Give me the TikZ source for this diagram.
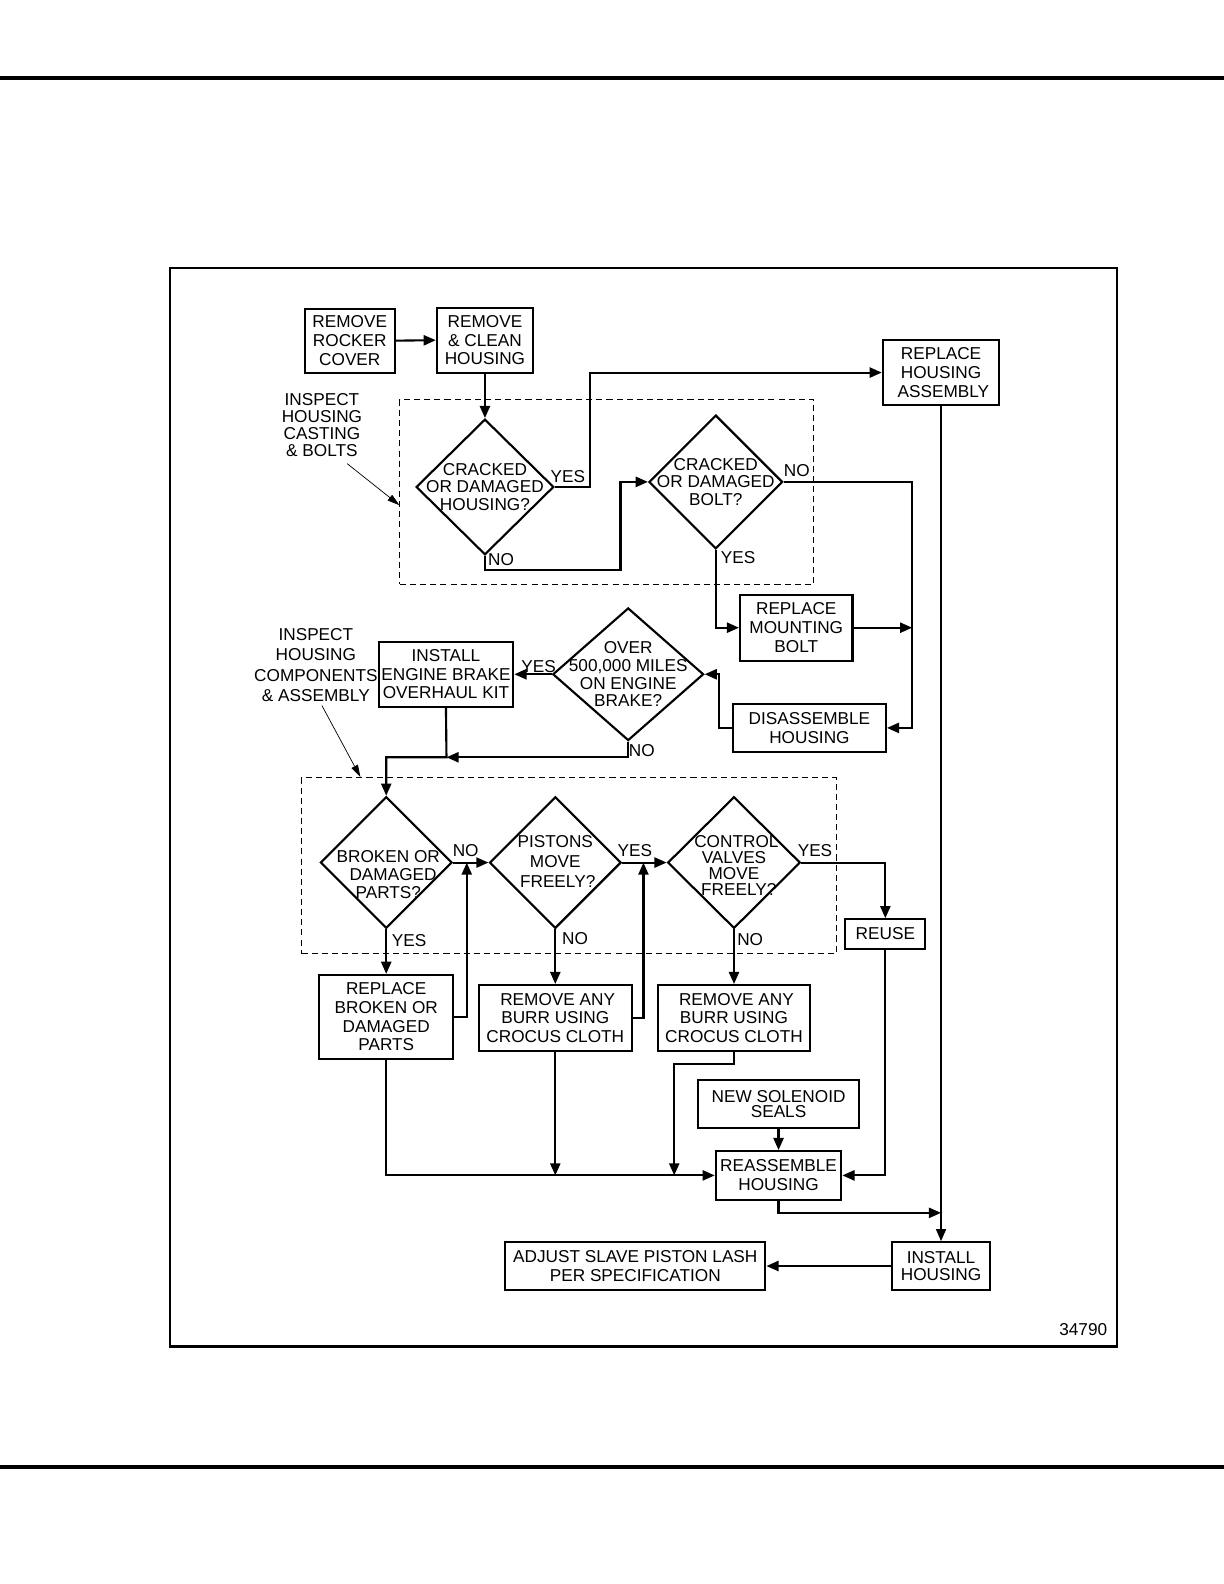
\documentclass[tikz,border=0pt]{standalone}
\usepackage{fontspec}
\setmainfont{Liberation Sans}
\usetikzlibrary{arrows.meta,shapes.geometric}
\newcommand\fsz[1]{\fontsize{17}{#1}\selectfont}
\begin{document}
\begin{tikzpicture}[x=1pt,y=-1pt,
  box/.style={draw, line width=2.1pt, inner sep=0pt, align=center, font=\fsz{18.5}},
  dia/.style={draw, shape=diamond, line width=2.1pt, inner sep=0pt},
  dtext/.style={inner sep=0pt, align=center, font=\fsz{17.5}},
  lbl/.style={inner sep=0pt, font=\fsz{18}},
  con/.style={line width=2.1pt, -{Triangle[length=12pt,width=10pt]}},
  pointer/.style={line width=0.7pt, -{Triangle[length=12pt,width=7pt]}},
  dashbox/.style={draw, line width=1pt, dash pattern=on 6pt off 4pt, inner sep=0pt}]
\useasboundingbox (0,0) rectangle (1209,1564.6);
% page rules and frame
\draw[line width=4.5pt] (0,77) -- (1209,77);
\draw[line width=4.5pt] (0,1449) -- (1209,1449);
\draw[line width=2pt] (168,265) rectangle (1103,1330);
% dashed groups
\node[dashbox, minimum width=409pt, minimum height=182pt] (g1) at (599.5,486) {};
\node[dashbox, minimum width=528pt, minimum height=174pt] (g2) at (562,855) {};
% boxes
\node[box, minimum width=89pt, minimum height=63pt] (rrc) at (345.5,336.5) {REMOVE\\ROCKER\\COVER};
\node[box, minimum width=95pt, minimum height=64pt] (rch) at (479,336) {REMOVE\\\& CLEAN\\HOUSING};
\node[box, minimum width=115pt, minimum height=64pt] (rha) at (929.5,368) {REPLACE\\HOUSING\\\ ASSEMBLY};
\node[box, minimum width=111pt, minimum height=65pt] (rmb) at (786.5,620) {REPLACE\\MOUNTING\\BOLT};
\node[box, minimum width=151pt, minimum height=48pt] (dis) at (799.5,719) {DISASSEMBLE\\HOUSING};
\node[box, minimum width=133pt, minimum height=64pt] (ikit) at (440.5,666) {INSTALL\\ENGINE BRAKE\\OVERHAUL KIT};
\node[box, minimum width=79pt, minimum height=29pt] (reuse) at (874.5,922.5) {REUSE};
\node[box, minimum width=132pt, minimum height=83pt] (rbp) at (381.5,1004.5) {REPLACE\\BROKEN OR\\DAMAGED\\PARTS};
\node[box, minimum width=151pt, minimum height=65pt] (b1) at (548.5,1005.5) {\ REMOVE ANY\\BURR USING\\CROCUS CLOTH};
\node[box, minimum width=150pt, minimum height=65pt] (b2) at (725,1005.5) {\ REMOVE ANY\\BURR USING\\CROCUS CLOTH};
\node[box, minimum width=159pt, minimum height=47pt, font=\fsz{15}] (nss) at (769,1090.5) {NEW SOLENOID\\SEALS};
\node[box, minimum width=124pt, minimum height=48pt] (rea) at (769,1161) {REASSEMBLE\\HOUSING};
\node[box, minimum width=97pt, minimum height=47pt, font=\fsz{16.5}] (ih) at (929.5,1250.5) {INSTALL\\HOUSING};
\node[box, minimum width=257pt, minimum height=47pt] (adj) at (627.5,1250.5) {ADJUST SLAVE PISTON LASH\\PER SPECIFICATION};
% diamonds
\node[dia, minimum width=136pt, minimum height=134pt,
  label={[dtext]center:CRACKED\\OR DAMAGED\\HOUSING?}] (d1) at (479,481) {};
\node[dia, minimum width=132pt, minimum height=132pt,
  label={[dtext]center:CRACKED\\OR DAMAGED\\BOLT?}] (d2) at (707,476) {};
\node[dia, minimum width=149pt, minimum height=131pt,
  label={[dtext]center:OVER\\500,000 MILES\\ON ENGINE\\BRAKE?}] (d3) at (620.5,666) {};
\node[dia, minimum width=130pt, minimum height=130pt,
  label={[dtext, yshift=-12pt, xshift=2pt]center:BROKEN OR\\\ \ DAMAGED\\PARTS?}] (d4) at (381.5,852) {};
\node[dia, minimum width=130pt, minimum height=130pt,
  label={[dtext, font=\fsz{20}, yshift=1pt]center:PISTONS\\MOVE\\\ FREELY?}] (d5) at (548.5,852) {};
\node[dia, minimum width=131pt, minimum height=130pt,
  label={[dtext, font=\fsz{16}, yshift=-3pt]center:\ CONTROL\\VALVES\\MOVE\\\ \ FREELY?}] (d6) at (725,852) {};
% side labels
\node[lbl, align=center, font=\fsz{17}] (ins1) at (318,420) {INSPECT\\HOUSING\\CASTING\\\& BOLTS};
\node[lbl, align=center, font=\fsz{20}] (ins2) at (312,657) {INSPECT\\HOUSING\\COMPONENTS\\\& ASSEMBLY};
\coordinate (p1) at (343,458);
\coordinate (p2) at (318,697);
\draw[pointer] (p1) -- (g1.west |- 0,499);
\draw[pointer] (p2) -- (g2.north -| 356,0);
% junction points
\coordinate (nbus) at (901,476);
\coordinate (j1) at (441,748);
\coordinate (j2) at (rha.south |- 0,1198);
% connectors
\draw[con] (rrc.east) -- (rch.west);
\draw[con] (rch.south) -- (d1.north);
\draw[con] (d1.east) -- ++(35,0) |- (rha.west);
\draw[con] (d1.south) -- ++(0,14) -| ([xshift=-27pt]d2.west) -- (d2.west);
\draw[con] (d2.east) -- (nbus) |- (dis.east);
\draw[con] (d2.south) |- (rmb.west);
\draw[con] (rmb.east) -- (rmb.east -| nbus);
\draw[con] (dis.west) -- ++(-13,0) |- (d3.east);
\draw[con] (d3.west) -- (ikit.east);
\draw[con] (d3.south) |- (j1);
\draw[con] (ikit.south) -- (j1) -| (d4.north);
\draw[con] (d4.east) -- (d5.west);
\draw[con] (d5.east) -- (d6.west);
\draw[con] (d6.east) -| (reuse.north);
\draw[con] (d4.south) -- (rbp.north);
\draw[con] (rbp.east) -| ([xshift=13.5pt]d4.east);
\draw[con] (d5.south) -- (b1.north);
\draw[con] (b1.east) -| ([xshift=21pt]d5.east);
\draw[con] (d6.south) -- (b2.north);
\draw[con] (b1.south) -- (b1.south |- rea.west);
\draw[con] (rbp.south) |- (rea.west);
\draw[con] (b2.south) -- ++(0,12) -| ([xshift=-40pt]rea.west);
\draw[con] (nss.south) -- (rea.north);
\draw[con] (reuse.south) |- (rea.east);
\draw[con] (rea.south) |- (j2);
\draw[line width=1.4pt, -{Triangle[length=12pt,width=10pt]}] (rha.south) -- (ih.north);
\draw[con] (ih.west) -- (adj.east);
% yes/no labels
\node[lbl] (l1) at (561,471) {YES};
\node[lbl] (l2) at (495,553) {NO};
\node[lbl] (l3) at (787,465) {NO};
\node[lbl] (l4) at (729,551) {YES};
\node[lbl] (l5) at (532,658) {YES};
\node[lbl] (l6) at (634,741) {NO};
\node[lbl] (l7) at (460,840) {NO};
\node[lbl] (l8) at (627,840) {YES};
\node[lbl] (l9) at (805,840) {YES};
\node[lbl] (l10) at (404,929) {YES};
\node[lbl] (l11) at (568,927) {NO};
\node[lbl] (l12) at (741,928) {NO};
\node[lbl, font=\fsz{16}] (fig) at (1070,1313) {34790};
\end{tikzpicture}
\end{document}
